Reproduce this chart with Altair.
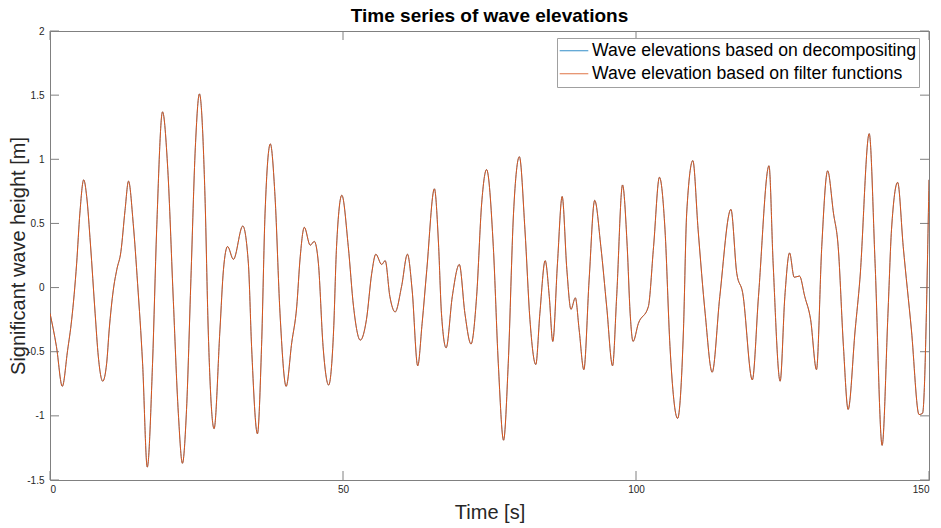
import altair as alt
import pandas as pd

# Wave elevation time series (time in s, elevation in m)
time_s = [
    0.0, 1.1, 2.1, 3.0, 3.7, 4.55, 5.1, 5.75, 6.26, 6.9, 7.7, 8.25, 9.0, 9.67,
    10.1, 10.8, 11.4, 12.1, 12.8, 13.4, 14.2, 14.95, 15.8, 16.6, 17.5, 18.2,
    19.2, 20.1, 21.0, 21.9, 22.6, 23.3, 24.05, 24.8, 25.5, 26.45, 27.0, 28.0,
    29.0, 29.6, 30.3, 31.3, 32.9, 33.85, 34.4, 35.4, 36.1, 36.7, 37.6, 38.4,
    39.25, 40.3, 41.25, 42.1, 42.7, 43.4, 44.4, 45.1, 45.8, 46.6, 47.55, 48.4,
    48.9, 49.8, 50.9, 51.8, 52.95, 54.0, 54.9, 55.6, 56.6, 57.2, 58.0, 58.9,
    60.0, 61.0, 61.8, 62.75, 63.5, 64.3, 65.6, 66.3, 66.8, 67.6, 68.65, 69.85,
    70.8, 71.85, 72.8, 73.67, 74.5, 75.65, 76.5, 77.4, 78.2, 79.1, 80.1, 81.05,
    81.9, 82.9, 83.6, 84.5, 85.2, 85.8, 86.6, 87.4, 88.2, 88.9, 89.65, 90.3,
    91.1, 92.0, 92.95, 94.0, 95.0, 96.0, 96.7, 97.7, 98.5, 99.0, 99.5, 100.4,
    102.1, 103.0, 104.0, 104.95, 105.8, 107.1, 108.1, 108.65, 109.7, 110.6,
    111.8, 113.0, 114.3, 116.2, 117.2, 118.2, 119.85, 120.9, 122.7, 123.4,
    124.6, 125.4, 126.2, 127.0, 127.9, 128.8, 129.8, 130.8, 131.7, 132.7,
    133.7, 134.5, 135.4, 136.2, 137.4, 138.2, 139.8, 140.8, 142.0, 143.0,
    143.6, 144.65, 145.6, 147.0, 148.3, 148.9, 150.0,
]
elevation_m = [
    -0.2, -0.46, -0.77, -0.49, -0.25, 0.19, 0.58, 0.84, 0.71, 0.34, -0.2, -0.54,
    -0.73, -0.59, -0.33, -0.02, 0.14, 0.28, 0.6, 0.83, 0.5, 0.03, -0.59, -1.40,
    -0.59, 0.45, 1.37, 0.92, -0.05, -0.98, -1.37, -0.95, 0.07, 1.09, 1.51, 0.71,
    -0.33, -1.10, -0.33, 0.14, 0.32, 0.22, 0.48, 0.19, -0.46, -1.14, -0.46, 0.58,
    1.12, 0.71, -0.2, -0.77, -0.43, -0.15, 0.24, 0.47, 0.33, 0.36, 0.19, -0.46,
    -0.76, -0.33, 0.32, 0.72, 0.32, -0.15, -0.41, -0.25, 0.11, 0.26, 0.18, 0.21,
    -0.07, -0.19, 0.01, 0.26, -0.02, -0.61, -0.28, 0.14, 0.77, 0.34, -0.2, -0.47,
    -0.07, 0.18, -0.2, -0.44, -0.07, 0.66, 0.92, 0.32, -0.59, -1.19, -0.59, 0.58,
    1.02, 0.45, -0.25, -0.60, -0.2, 0.21, -0.07, -0.42, 0.19, 0.71, 0.14, -0.17,
    -0.08, -0.33, -0.64, 0.06, 0.68, 0.32, -0.15, -0.61, -0.07, 0.80, 0.32, -0.2,
    -0.42, -0.28, -0.15, 0.32, 0.86, 0.45, -0.46, -1.02, -0.33, 0.58, 0.99, 0.45,
    -0.2, -0.66, -0.07, 0.61, 0.11, -0.04, -0.72, -0.07, 0.95, 0.19, -0.73, -0.07,
    0.27, 0.08, 0.09, -0.07, -0.25, -0.64, 0.32, 0.91, 0.58, 0.32, -0.46, -0.95,
    -0.33, 0.06, 1.20, 0.19, -1.23, -0.2, 0.45, 0.82, 0.32, -0.33, -0.99, -0.98,
    0.84,
]

series_names = [
    "Wave elevations based on decompositing",
    "Wave elevation based on filter functions",
]
series_colors = ["#0072BD", "#D95319"]
series_widths = [0.6, 1.0]  # the second series is drawn on top of the first

x_ticks = [0, 50, 100, 150]
y_ticks = [-1.5, -1.0, -0.5, 0.0, 0.5, 1.0, 1.5, 2.0]

W, H = 879, 449
FONT = "Liberation Sans"

frames = []
for name in series_names:
    frames.append(pd.DataFrame({"t": time_s, "v": elevation_m, "series": name}))
df = pd.concat(frames, ignore_index=True)

x_scale = alt.Scale(domain=[0, 150], nice=False, zero=False)
y_scale = alt.Scale(domain=[-1.5, 2], nice=False, zero=False)
color_scale = alt.Scale(domain=series_names, range=series_colors)

x_enc = alt.X(
    "t:Q", scale=x_scale,
    axis=alt.Axis(values=x_ticks, title="Time [s]", labelExpr="datum.value + ''",
                  titleX=W / 2, titleY=32, titleBaseline="middle"),
)
y_enc = alt.Y(
    "v:Q", scale=y_scale,
    axis=alt.Axis(values=y_ticks, title="Significant wave height [m]",
                  labelExpr="datum.value + ''",
                  titleX=-32, titleY=H / 2, titleBaseline="middle"),
)
legend = alt.Legend(
    orient="none", legendX=507, legendY=7, title=None,
    symbolType="stroke", symbolSize=818, symbolStrokeWidth=1, symbolOpacity=0.8,
    labelFont=FONT, labelFontSize=17.6, labelColor="black", labelOffset=3,
    strokeColor="#a0a0a0", fillColor="white", padding=2, rowPadding=1,
    clipHeight=21.5, labelLimit=500,
)

lines = []
for name, width in zip(series_names, series_widths):
    lines.append(
        alt.Chart(df[df["series"] == name])
        .mark_line(interpolate="monotone", strokeWidth=width, clip=True)
        .encode(
            x=x_enc, y=y_enc,
            color=alt.Color("series:N", scale=color_scale, legend=legend),
        )
    )

# Inward-pointing tick marks on all four sides of the box
xt = pd.DataFrame({"t": x_ticks})
yt = pd.DataFrame({"v": y_ticks})
tick_color = "#808080"
ticks_bottom = alt.Chart(xt).mark_rule(color=tick_color, strokeWidth=1).encode(
    x=alt.X("t:Q", scale=x_scale), y=alt.value(H), y2=alt.value(H - 9))
ticks_top = alt.Chart(xt).mark_rule(color=tick_color, strokeWidth=1).encode(
    x=alt.X("t:Q", scale=x_scale), y=alt.value(0), y2=alt.value(9))
ticks_left = alt.Chart(yt).mark_rule(color=tick_color, strokeWidth=1).encode(
    y=alt.Y("v:Q", scale=y_scale), x=alt.value(0), x2=alt.value(9))
ticks_right = alt.Chart(yt).mark_rule(color=tick_color, strokeWidth=1).encode(
    y=alt.Y("v:Q", scale=y_scale), x=alt.value(W), x2=alt.value(W - 9))

chart = (
    alt.layer(ticks_bottom, ticks_top, ticks_left, ticks_right, *lines)
    .properties(
        width=W, height=H,
        autosize="none",
        padding={"left": 50, "top": 31, "right": 12, "bottom": 48},
        title=alt.Title("Time series of wave elevations", font=FONT, fontSize=19,
                        fontWeight="bold", color="black", anchor="middle", offset=0),
        background="white",
    )
    .configure_view(stroke="#808080", strokeWidth=1)
    .configure_axis(
        domain=False, ticks=False, grid=False,
        labelFont=FONT, labelFontSize=10, labelColor="#262626",
        titleFont=FONT, titleFontSize=20, titleFontWeight="normal", titleColor="#262626",
    )
    .configure_axisX(labelPadding=4)
    .configure_axisY(labelPadding=6)
)

chart.save("out.html", embed_options={"renderer": "svg", "actions": False})
